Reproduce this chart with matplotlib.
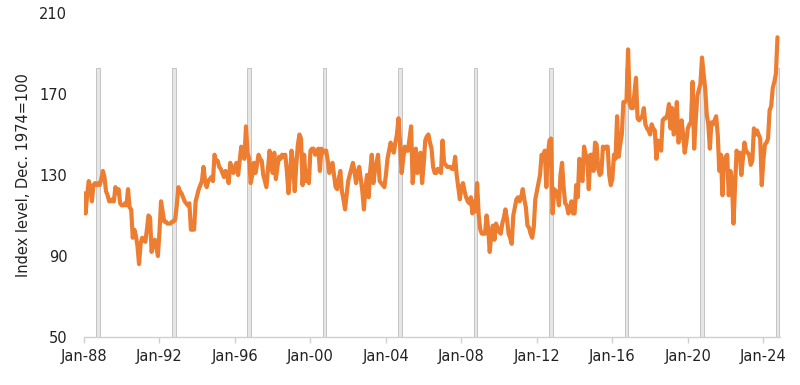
import matplotlib
matplotlib.use("Agg")
import matplotlib.pyplot as plt
import numpy as np

start_year = 1988

# Monthly index level (Dec. 1974 = 100), starting Jan 1988
index_level = [
    121, 111, 120, 127, 124, 117, 125, 126, 125, 126, 125, 128,
    132, 129, 122, 120, 117, 117, 118, 117, 124, 121, 123, 116,
    115, 115, 116, 115, 123, 114, 113, 99, 103, 100, 95, 86,
    96, 99, 98, 97, 103, 110, 109, 92, 97, 98, 94, 90,
    102, 117, 112, 107, 107, 106, 106, 106, 107, 107, 108, 115,
    124, 122, 121, 119, 117, 116, 115, 116, 103, 103, 103, 117,
    120, 123, 125, 127, 134, 127, 124, 127, 128, 129, 127, 140,
    137, 137, 134, 133, 131, 129, 132, 130, 126, 136, 133,
    131, 134, 136, 130, 137, 144, 139, 138, 154, 141, 138, 126,
    130, 136, 131, 135, 140, 138, 137, 130, 127, 124, 133, 142,
    136, 131, 141, 128, 134, 139, 138, 140, 139, 140, 132, 121,
    130, 142, 135, 122, 135, 145, 150, 148, 125, 140, 127, 132,
    126, 142, 143, 143, 140, 141, 143, 132, 143, 141, 142, 142,
    137, 131, 134, 136, 130, 124, 123, 128, 132, 122, 118, 113,
    120, 127, 130, 133, 136, 132, 126, 131, 134, 128, 122, 113,
    124, 130, 119, 132, 140, 126, 132, 136, 140, 127, 126, 125,
    124, 130, 138, 142, 146, 143, 141, 146, 150, 158, 145, 131,
    138, 144, 142, 142, 148, 154, 126, 135, 143, 131, 137, 141,
    126, 135, 147, 149, 150, 146, 143, 134, 131, 131, 133, 132,
    131, 147, 136, 135, 134, 134, 134, 133, 133, 139, 130, 124,
    118, 124, 126, 122, 119, 117, 116, 119, 111, 117, 112, 126,
    110, 103, 101, 101, 101, 110, 104, 92, 100, 105, 98, 106,
    104, 102, 101, 106, 109, 113, 108, 101, 99, 96, 110, 114,
    118, 119, 117, 119, 123, 118, 114, 105, 104, 101, 99,
    104, 118, 122, 126, 130, 140, 138, 142, 124, 140, 147, 148,
    111, 123, 122, 121, 115, 130, 136, 124, 116, 115, 111, 113,
    117, 111, 111, 125, 119, 138, 130, 127, 144, 140, 139, 123,
    140, 140, 132, 146, 145, 133, 130, 131, 144, 143, 144, 144,
    130, 125, 128, 140, 138, 159, 139, 145, 150, 166, 166, 167,
    192, 165, 163, 163, 170, 178, 158, 157, 158, 159, 163, 155,
    153, 152, 150, 155, 153, 152, 138, 147, 146, 142, 157, 158,
    158, 160, 165, 153, 163, 150, 152, 166, 146, 149, 157, 150,
    141, 146, 153, 155, 156, 176, 143, 157, 169, 172, 175, 188,
    180, 173, 160, 155, 143, 156, 155, 157, 159, 150, 132, 140,
    120, 137, 139, 140, 120, 132, 128, 106, 124, 142, 138, 141,
    130, 138, 146, 142, 141, 140, 135, 137, 153, 150, 152, 150,
    148, 125, 137, 145, 146, 148, 162, 164, 173, 176, 180, 198,
]

election_years = [1988, 1992, 1996, 2000, 2004, 2008, 2012, 2016, 2020, 2024]
election_month = 10
bar_top = 183
y_ticks = [50, 90, 130, 170, 210]
tick_years = list(range(1988, 2025, 4))
tick_labels = ["Jan-%02d" % (y % 100) for y in tick_years]

fig = plt.figure(figsize=(8, 3.85), dpi=100)
ax = fig.add_axes([0.105, 0.1247, 0.87, 0.8416])

months = np.arange(len(index_level))
bar_x = [(y - start_year) * 12 + election_month - 1 for y in election_years]
ax.bar(bar_x, [bar_top - y_ticks[0]] * len(bar_x), bottom=y_ticks[0], width=2.4,
       color="#e6e6e6", edgecolor="#c4c4c4", linewidth=0.7, zorder=1)
ax.plot(months, index_level, color="#ED7D31", lw=3.0, zorder=3,
        solid_joinstyle="round", solid_capstyle="round")

ax.set_ylim(50, 210)
ax.set_yticks(y_ticks)
ax.set_xlim(0, 442.6)
ax.set_xticks([(y - start_year) * 12 for y in tick_years])
ax.set_xticklabels(tick_labels)

for s in ["top", "right", "left"]:
    ax.spines[s].set_visible(False)
ax.spines["bottom"].set_color("#d0d0d0")
ax.spines["bottom"].set_linewidth(1.0)
ax.tick_params(axis="y", length=0, pad=12, labelsize=10.5, labelcolor="#222222")
ax.tick_params(axis="x", length=4, width=1, color="#d0d0d0", pad=5, labelsize=10.5,
               labelcolor="#222222")
ax.set_ylabel("Index level, Dec. 1974=100", fontsize=10.5, color="#222222", labelpad=6)

fig.savefig("out.png", dpi=100)
